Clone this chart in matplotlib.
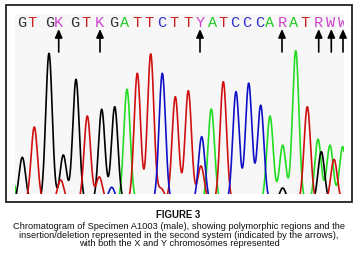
import numpy as np
import matplotlib
matplotlib.use("Agg")
import matplotlib.pyplot as plt
from matplotlib.patches import Rectangle

# peak centres (scan position) and amplitudes, per base
black_pos = [22.3, 49.0, 63.3, 76.0, 101.7, 114.7, 282.7, 321.3]
black_amp = [44.7, 148.7, 47.0, 122.7, 92.7, 95.3, 14.0, 50.3]
red_pos = [34.3, 60.7, 87.3, 99.3, 137.3, 150.7, 161.3, 175.3, 188.3, 201.0, 223.3, 307.3, 334.0]
red_amp = [75.0, 22.0, 86.0, 25.0, 128.7, 148.0, 13.0, 105.3, 111.3, 36.0, 120.3, 95.3, 42.7]
blue_pos = [111.7, 162.3, 201.7, 236.0, 248.7, 260.7]
blue_amp = [14.7, 128.7, 65.3, 110.3, 118.7, 96.7]
green_pos = [11.0, 127.0, 211.3, 270.0, 282.7, 295.7, 318.0, 330.0, 342.7]
green_amp = [33.0, 112.7, 93.0, 86.0, 56.7, 151.3, 62.7, 56.7, 55.3]

# base calls and arrows (polymorphic sites)
bases = list("GTGKGTKGATTCTTYATCCCARATRWW")
base_pos = [21.7, 31.7, 49.3, 58.3, 75.0, 86.0, 99.3, 113.3, 125.0, 136.7, 149.3, 161.7,
            174.0, 188.3, 200.0, 212.7, 223.3, 235.0, 246.7, 259.3, 270.0, 282.7, 293.3,
            305.0, 318.3, 331.0, 342.7]
arrow_pos = [58.7, 100.0, 200.0, 282.0, 318.7, 331.3, 343.0]

caption_title = "FIGURE 3"
caption_lines = ["Chromatogram of Specimen A1003 (male), showing polymorphic regions and the",
                 "insertion/deletion represented in the second system (indicated by the arrows),",
                 "with both the X and Y chromosomes represented"]

base_colors = {"G": "#333333", "T": "#cc2020", "A": "#22cc22", "C": "#3030cc"}
ambig_color = "#cc44cc"

W, H = 363, 263
fig = plt.figure(figsize=(W / 100, H / 100), dpi=100)

# outer frame in pixel coords
bg = fig.add_axes([0, 0, 1, 1])
bg.set_xlim(0, W)
bg.set_ylim(H, 0)
bg.axis("off")
bg.add_patch(Rectangle((6, 5), 346, 197, fill=False, lw=1.3, ec="#222222"))
bg.add_patch(Rectangle((15, 14), 329, 180, fc="#f7f7f7", ec="none"))

# chromatogram panel
x0, x1, ytop, ybot = 15, 344, 14, 194
ax = fig.add_axes([x0 / W, (H - ybot) / H, (x1 - x0) / W, (ybot - ytop) / H])
ax.set_xlim(x0, x1)
ax.set_ylim(8, 188)
ax.axis("off")

x = np.linspace(x0 - 5, x1 + 5, 2000)
sig = 3.25


def trace(pos, amp):
    y = np.zeros_like(x)
    for p, a in zip(pos, amp):
        y += a * np.exp(-(x - p) ** 2 / (2 * sig ** 2))
    return y


for pos, amp, c in [(green_pos, green_amp, "#22dd22"), (black_pos, black_amp, "#000000"),
                    (red_pos, red_amp, "#d01010"), (blue_pos, blue_amp, "#1010c8")]:
    ax.plot(x, trace(pos, amp), color=c, lw=1.2)

for b, p in zip(bases, base_pos):
    ax.text(p, 179.3, b, ha="center", va="center", fontsize=11,
            family="Liberation Mono", color=base_colors.get(b, ambig_color), clip_on=True)

for p in arrow_pos:
    ax.annotate("", xy=(p, 173), xytext=(p, 150),
                arrowprops=dict(arrowstyle="-|>,head_length=0.5,head_width=0.22",
                                color="black", lw=1.2, shrinkA=0, shrinkB=0),
                annotation_clip=False)

fig.text(178.5 / W, 1 - 214.7 / H, caption_title, ha="center", va="center",
         fontsize=6.9, fontweight="bold", family="Liberation Sans", color="#111111")
for i, line in enumerate(caption_lines):
    fig.text(179 / W, 1 - (226.6 + 8.5 * i) / H, line, ha="center", va="center",
             fontsize=6.7, family="Liberation Sans", color="#111111")

fig.savefig("out.png", dpi=100)
